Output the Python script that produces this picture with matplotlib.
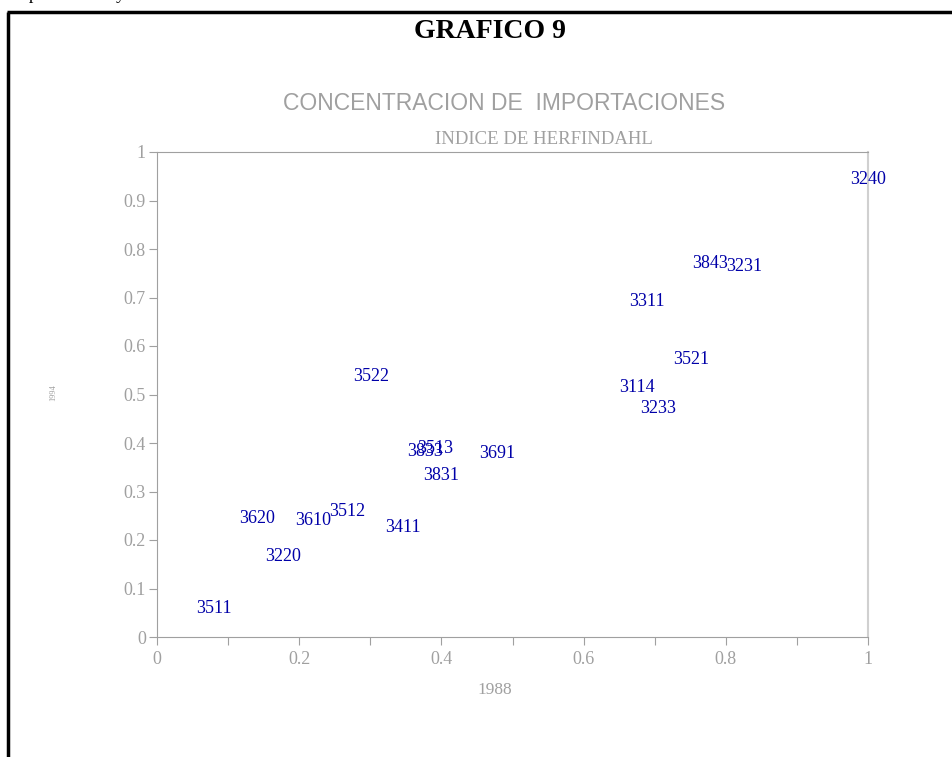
import matplotlib.pyplot as plt

# Herfindahl index of import concentration by sector: 1988 (x) vs 1994 (y)
codes = ['3240', '3843', '3231', '3311', '3521', '3114', '3233', '3522',
         '3833', '3513', '3831', '3691', '3620', '3610', '3512', '3411',
         '3220', '3511']
h1988 = [1.000, 0.778, 0.826, 0.689, 0.751, 0.675, 0.705, 0.301,
         0.377, 0.391, 0.400, 0.478, 0.141, 0.220, 0.268, 0.346,
         0.177, 0.080]
h1994 = [0.944, 0.771, 0.763, 0.691, 0.573, 0.515, 0.472, 0.538,
         0.383, 0.388, 0.332, 0.379, 0.245, 0.241, 0.258, 0.225,
         0.167, 0.058]

W, H = 952, 757
gray = '#a0a0a0'
blue = '#0000a8'
serif = 'Liberation Serif'

fig = plt.figure(figsize=(W / 100, H / 100), dpi=100)
ax = fig.add_axes([157 / W, 1 - 637 / H, 711 / W, 485 / H])

for c, x, y in zip(codes, h1988, h1994):
    ax.text(x, y, c, color=blue, fontsize=13, family=serif,
            ha='center', va='center', clip_on=False)

ax.set_xlim(0, 1)
ax.set_ylim(0, 1)
ax.set_xticks([i / 10 for i in range(11)])
ax.set_xticklabels(['0', '', '0.2', '', '0.4', '', '0.6', '', '0.8', '', '1'])
ax.set_yticks([i / 10 for i in range(11)])
ax.set_yticklabels(['0', '0.1', '0.2', '0.3', '0.4', '0.5', '0.6', '0.7',
                    '0.8', '0.9', '1'])
ax.tick_params(colors=gray, labelcolor=gray, length=6, width=0.8,
               labelsize=13)
ax.tick_params(axis='x', pad=4)
ax.tick_params(axis='y', pad=2)
for lab in ax.get_xticklabels() + ax.get_yticklabels():
    lab.set_family(serif)
for side in ['left', 'bottom', 'top']:
    ax.spines[side].set_color(gray)
ax.spines['right'].set_color('#d0d0d0')
ax.spines['right'].set_linewidth(1.5)

ax.text((495 - 157) / 711, -0.109, '1988', transform=ax.transAxes,
        color=gray, fontsize=12.5, family=serif, ha='center', va='center')
ax.text((53 - 157) / 711, 0.503, '1994', transform=ax.transAxes,
        color=gray, fontsize=6, family=serif, rotation=90,
        ha='center', va='center')

# titles
fig.text(490 / W, 1 - 32 / H, 'GRAFICO 9', fontsize=20, weight='bold',
         family=serif, ha='center', va='center')
fig.text(504 / W, 1 - 103 / H, 'CONCENTRACION DE  IMPORTACIONES',
         fontsize=16.5, family='Liberation Sans', color=gray,
         ha='center', va='center')
fig.text(544 / W, 1 - 139 / H, 'INDICE DE HERFINDAHL', fontsize=13.5,
         family=serif, color=gray, ha='center', va='center')

# page frame and clipped line of text above it
fig.add_artist(plt.Line2D([8 / W, 8 / W], [0, 1 - 11.5 / H], color='black',
                          lw=2.5, solid_capstyle='butt',
                          transform=fig.transFigure))
fig.add_artist(plt.Line2D([7 / W, 1], [1 - 11.5 / H, 1 - 11.5 / H],
                          color='black', lw=2.5, solid_capstyle='butt',
                          transform=fig.transFigure))
fig.text(10 / W, 1 + 1 / H, 'importaciones y', fontsize=13, family=serif,
         ha='left', va='baseline')

fig.savefig('out.png', dpi=100)
